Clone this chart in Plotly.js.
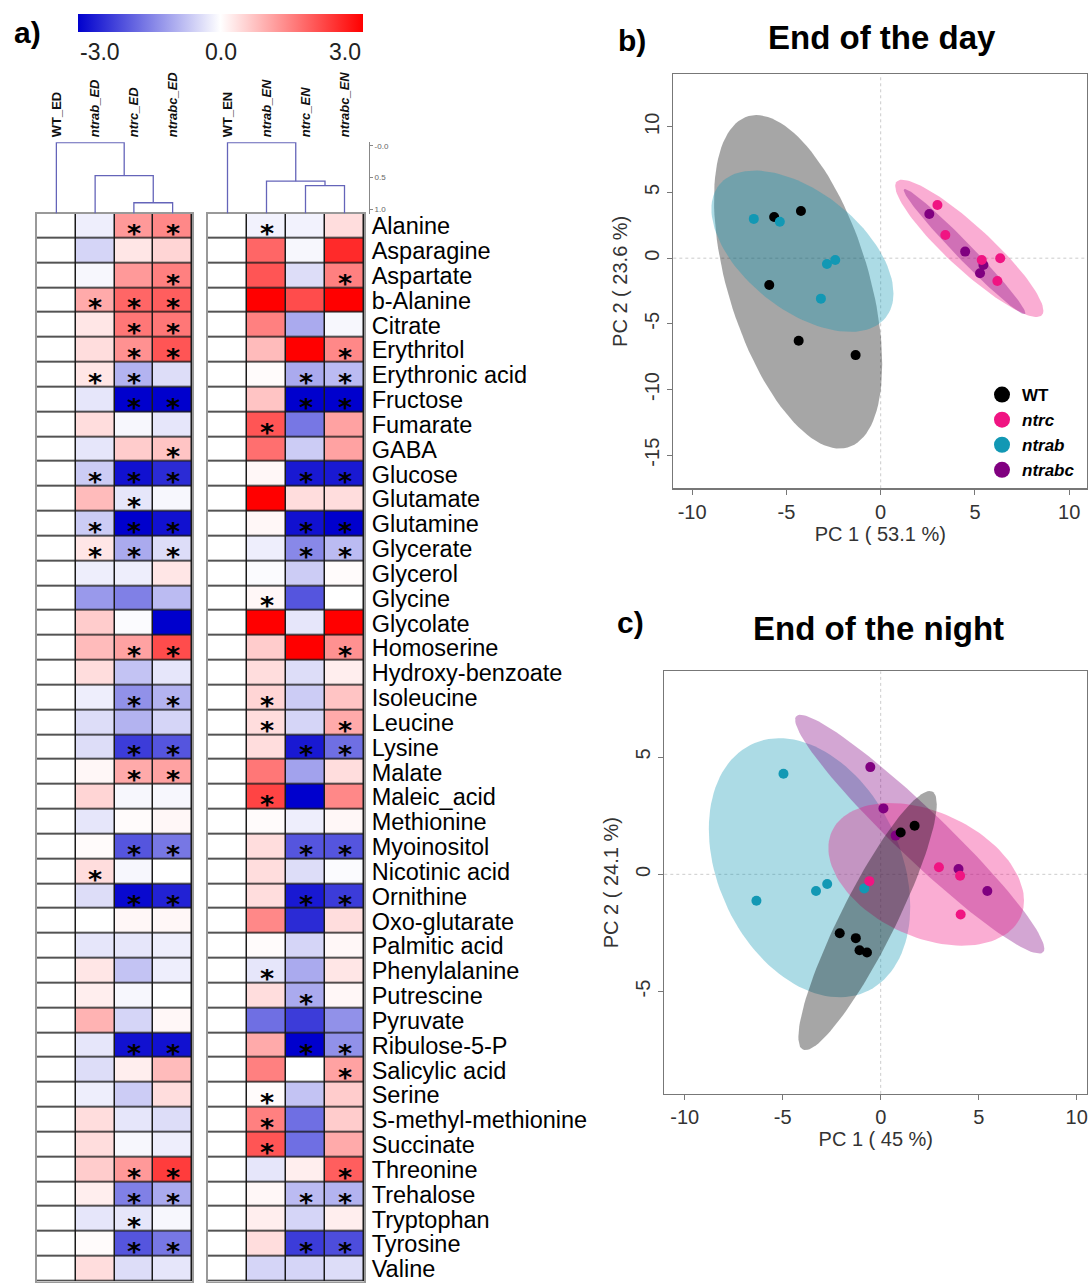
<!DOCTYPE html>
<html><head><meta charset="utf-8">
<script src="https://cdn.plot.ly/plotly-3.0.1.min.js"></script>
<style>html,body{margin:0;padding:0;background:#fff}#chart{width:1088px;height:1283px}</style>
</head><body><div id="chart"></div>
<script>
// ---------------- DATA ----------------
const metabolites = ['Alanine','Asparagine','Aspartate','b-Alanine','Citrate','Erythritol','Erythronic acid','Fructose','Fumarate','GABA','Glucose','Glutamate','Glutamine','Glycerate','Glycerol','Glycine','Glycolate','Homoserine','Hydroxy-benzoate','Isoleucine','Leucine','Lysine','Malate','Maleic_acid','Methionine','Myoinositol','Nicotinic acid','Ornithine','Oxo-glutarate','Palmitic acid','Phenylalanine','Putrescine','Pyruvate','Ribulose-5-P','Salicylic acid','Serine','S-methyl-methionine','Succinate','Threonine','Trehalose','Tryptophan','Tyrosine','Valine'];
const edColLabels = ['WT_ED','<i>ntrab_ED</i>','<i>ntrc_ED</i>','<i>ntrabc_ED</i>'];
const enColLabels = ['WT_EN','<i>ntrab_EN</i>','<i>ntrc_EN</i>','<i>ntrabc_EN</i>'];

// End of day, log-ratio vs WT
const edWT     = metabolites.map(()=>0);
const edNtrab  = [-0.2,-0.5,-0.1,1.0,0.3,0.4,0.3,-0.3,0.4,-0.3,-0.6,0.8,-0.6,0.3,-0.2,-1.2,0.6,0.8,0.4,-0.2,-0.4,-0.4,0.1,0.5,-0.3,0.05,0.4,-0.4,0.0,-0.3,0.3,0.2,0.9,-0.3,-0.4,-0.2,0.4,0.4,0.6,0.2,-0.3,0.05,0.4];
const edNtrc   = [1.2,0.3,1.2,1.8,1.6,1.3,-0.9,-3.0,-0.1,0.6,-2.8,-0.3,-3.0,-1.0,-0.2,-1.5,-0.05,1.1,-0.7,-1.3,-0.9,-2.3,1.0,-0.1,0.05,-2.0,-0.1,-2.9,0.1,-0.3,-0.7,-0.1,-0.5,-2.8,0.2,-0.6,-0.3,-0.1,1.2,-1.5,-0.3,-2.0,-0.4];
const edNtrabc = [1.4,0.5,1.5,1.9,1.6,2.0,-0.4,-3.0,-0.3,0.7,-2.5,-0.1,-2.8,-0.4,0.3,-0.8,-3.0,2.1,-0.3,-0.9,-0.5,-2.0,1.1,-0.1,0.1,-1.6,0.0,-2.6,0.1,-0.2,-0.2,0.0,0.1,-2.8,0.8,0.4,-0.4,-0.2,2.3,-1.0,-0.1,-1.6,-0.3];
const edSigNtrab  = [0,0,0,1,0,0,1,0,0,0,1,0,1,1,0,0,0,0,0,0,0,0,0,0,0,0,1,0,0,0,0,0,0,0,0,0,0,0,0,0,0,0,0];
const edSigNtrc   = [1,0,0,1,1,1,1,1,0,0,1,1,1,1,0,0,0,1,0,1,0,1,1,0,0,1,0,1,0,0,0,0,0,1,0,0,0,0,1,1,1,1,0];
const edSigNtrabc = [1,0,1,1,1,1,0,1,0,1,1,0,1,1,0,0,0,1,0,1,0,1,1,0,0,1,0,1,0,0,0,0,0,1,0,0,0,0,1,1,0,1,0];

// End of night
const enWT     = metabolites.map(()=>0);
const enNtrab  = [-0.15,1.8,2.0,3.0,1.5,0.8,0.05,0.7,2.0,1.7,0.1,3.0,0.1,-0.2,-0.05,0.1,3.0,0.6,0.4,0.5,0.4,0.4,1.6,2.2,0.05,0.4,0.4,0.4,1.4,0.05,-0.3,0.4,-1.7,1.0,1.5,0.05,1.5,2.0,-0.3,0.1,0.2,0.4,-0.5];
const enNtrc   = [-0.15,-0.1,-0.4,2.1,-1.0,3.0,-1.0,-3.0,-1.6,-0.6,-2.7,0.4,-2.8,-1.4,-0.6,-2.0,-0.3,3.0,-0.4,-0.6,-0.5,-2.7,-1.1,-3.0,-0.2,-2.0,-0.4,-2.7,-2.5,-0.5,-1.0,-1.0,-2.3,-3.0,0.0,-0.7,-1.7,-1.7,0.2,-0.8,-0.5,-2.3,-0.5];
const enNtrabc = [0.4,2.5,1.5,3.0,-0.1,1.4,-0.8,-3.0,1.1,1.1,-2.7,0.4,-3.0,-0.8,0.05,0.0,3.0,1.3,0.2,0.7,1.0,-1.7,0.4,1.4,0.1,-2.0,-0.05,-2.3,0.4,0.1,0.3,0.1,-1.3,-1.3,1.1,0.6,0.6,1.0,1.9,-0.9,0.2,-2.1,-0.4];
const enSigNtrab  = [1,0,0,0,0,0,0,0,1,0,0,0,0,0,0,1,0,0,0,1,1,0,0,1,0,0,0,0,0,0,1,0,0,0,0,1,1,1,0,0,0,0,0];
const enSigNtrc   = [0,0,0,0,0,0,1,1,0,0,1,0,1,1,0,0,0,0,0,0,0,1,0,0,0,1,0,1,0,0,0,1,0,1,0,0,0,0,0,1,0,1,0];
const enSigNtrabc = [0,0,1,0,0,1,1,1,0,0,1,0,1,1,0,0,0,1,0,0,1,1,0,0,0,1,0,1,0,0,0,0,0,1,1,0,0,0,1,1,0,1,0];

// Dendrogram merge heights (similarity scale): [ntrc+ntrabc, +ntrab, +WT]
const edMergeHeights = [0.90, 0.47, -0.05];
const enMergeHeights = [0.63, 0.56, -0.05];
const dendroTicks = [0, 0.5, 1.0];
const dendroTickText = ['-0.0','0.5','1.0'];
const colorbarTicks = ['-3.0','0.0','3.0'];

// PCA End of the day
const bWTx = [-5.65,-4.23,-5.91,-4.35,-1.33],   bWTy = [3.13,3.59,-2.04,-6.29,-7.38];
const bNtrcx = [3.01,3.43,5.36,6.34,6.19],      bNtrcy = [4.05,1.77,-0.14,-0.01,-1.74];
const bNtrabx = [-6.73,-5.35,-2.85,-2.41,-3.17],bNtraby = [2.99,2.78,-0.44,-0.14,-3.08];
const bNtrabcx = [2.58,4.48,5.45,5.27],         bNtrabcy = [3.37,0.50,-0.52,-1.15];
// ellipses: [cx, cy, sxx, sxy, syy]
const bEllWT     = [-4.38,-1.80,19.91,-28.0,161.2];
const bEllNtrab  = [-4.15,0.53,23.32,-15.51,37.73];
const bEllNtrc   = [4.70,0.75,15.43,-18.61,27.30];
const bEllNtrabc = [4.45,0.50,10.40,-15.11,22.76];
const bXTicks = [-10,-5,0,5,10], bYTicks = [-15,-10,-5,0,5,10];

// PCA End of the night
const cWTx = [-2.09,-1.27,-1.08,-0.70,1.02,1.73], cWTy = [-2.51,-2.72,-3.24,-3.33,1.78,2.07];
const cNtrcx = [-0.58,2.97,4.05,4.08],            cNtrcy = [-0.29,0.30,-0.06,-1.71];
const cNtrabx = [-4.96,-6.34,-3.30,-2.73,-0.84],  cNtraby = [4.29,-1.13,-0.71,-0.41,-0.60];
const cNtrabcx = [-0.53,0.14,0.76,3.97,5.44],     cNtrabcy = [4.57,2.81,1.65,0.23,-0.71];
const cEllWT     = [-0.67,-1.97,12.46,17.5,30.5];
const cEllNtrab  = [-3.63,0.28,26.4,-8.5,30.5];
const cEllNtrc   = [2.32,0.0,24.9,-5.6,9.24];
const cEllNtrabc = [1.99,1.71,40.4,-31.0,25.9];
const cXTicks = [-10,-5,0,5,10], cYTicks = [-5,0,5];

const groupNames = ['WT','ntrc','ntrab','ntrabc'];
const groupColors = {WT:'rgb(0,0,0)', ntrc:'rgb(240,20,130)', ntrab:'rgb(18,152,180)', ntrabc:'rgb(128,0,128)'};
const groupFills  = {WT:'rgba(0,0,0,0.35)', ntrc:'rgba(240,20,130,0.35)', ntrab:'rgba(18,152,180,0.35)', ntrabc:'rgba(128,0,128,0.35)'};

// ---------------- LAYOUT HELPERS ----------------
const W = 1088, H = 1283;
const fx = v => v / W, fy = v => 1 - v / H;
const FONT = 'Liberation Sans, Arial, sans-serif';
const STARFONT = 'DejaVu Sans, sans-serif';
const colorscale = [[0,'rgb(0,0,205)'],[0.5,'rgb(255,255,255)'],[1,'rgb(255,0,0)']];
const colIdx = [0,1,2,3];

function heat(cols, xa, ya, withBar) {
  const z = metabolites.map((m, i) => cols.map(c => c[i]));
  const t = {type:'heatmap', x: colIdx, y: metabolites, z, zmin:-3, zmax:3, colorscale,
    xgap:1.5, ygap:1.5, xaxis:xa, yaxis:ya, hoverinfo:'skip', showscale: withBar};
  if (withBar) t.colorbar = {orientation:'h', x: fx(220.5), xanchor:'center', y: fy(14), yanchor:'top',
    len: 285, lenmode:'pixels', thickness: 18, thicknessmode:'pixels', showticklabels:false, ticks:'',
    outlinewidth:0, xpad:0, ypad:0};
  return t;
}
function starAnns(sigCols, xa, ya) {
  const out = [];
  sigCols.forEach((s, k) => s.forEach((v, i) => {
    if (v) out.push({text:'<b>*</b>', xref:xa, yref:ya, x:k + 1, y:metabolites[i], showarrow:false, yshift:-7,
      xanchor:'center', yanchor:'middle', borderpad:0, width:16, height:18, valign:'middle',
      font:{size:27, color:'#000', family:STARFONT}});
  }));
  return out;
}
const dendroRange = [1.07, -0.055];
function dendro(h, xa, ya) {
  const leaf = dendroRange[0];
  const m23 = (2 + 3) / 2, m123 = (1 + m23) / 2;
  const x = [], y = [];
  const seg = (xs, ys) => { x.push(...xs, null); y.push(...ys, null); };
  seg([2,2,3,3], [leaf,h[0],h[0],leaf]);
  seg([1,1,m23,m23], [leaf,h[1],h[1],h[0]]);
  seg([0,0,m123,m123], [leaf,h[2],h[2],h[1]]);
  return {type:'scatter', mode:'lines', x, y, line:{color:'rgb(100,100,185)', width:1.3},
    xaxis:xa, yaxis:ya, hoverinfo:'skip', showlegend:false, cliponaxis:false};
}
function ellipse(p, name, xa, ya) {
  const [cx, cy, sxx, sxy, syy] = p;
  const l11 = Math.sqrt(sxx), l21 = sxy / l11, l22 = Math.sqrt(syy - l21 * l21);
  const x = [], y = [];
  for (let k = 0; k <= 120; k++) {
    const t = 2 * Math.PI * k / 120, c = Math.cos(t), s = Math.sin(t);
    x.push(cx + l11 * c); y.push(cy + l21 * c + l22 * s);
  }
  return {type:'scatter', mode:'lines', x, y, fill:'toself', fillcolor: groupFills[name],
    line:{width:0, color:'rgba(0,0,0,0)'}, xaxis:xa, yaxis:ya, hoverinfo:'skip', showlegend:false};
}
function pts(xs, ys, name, xa, ya) {
  return {type:'scatter', mode:'markers', x: xs, y: ys, marker:{size:10, color: groupColors[name]},
    xaxis:xa, yaxis:ya, hoverinfo:'skip', showlegend:false};
}

const traces = [];
traces.push(heat([edWT, edNtrab, edNtrc, edNtrabc], 'x', 'y', true));
traces.push(heat([enWT, enNtrab, enNtrc, enNtrabc], 'x2', 'y2', false));
traces.push(dendro(edMergeHeights, 'x3', 'y3'));
traces.push(dendro(enMergeHeights, 'x4', 'y4'));

// PCA b
traces.push(ellipse(bEllWT, 'WT', 'x5', 'y5'));
traces.push(ellipse(bEllNtrab, 'ntrab', 'x5', 'y5'));
traces.push(ellipse(bEllNtrc, 'ntrc', 'x5', 'y5'));
traces.push(ellipse(bEllNtrabc, 'ntrabc', 'x5', 'y5'));
traces.push(pts(bNtrabcx, bNtrabcy, 'ntrabc', 'x5', 'y5'));
traces.push(pts(bWTx, bWTy, 'WT', 'x5', 'y5'));
traces.push(pts(bNtrabx, bNtraby, 'ntrab', 'x5', 'y5'));
traces.push(pts(bNtrcx, bNtrcy, 'ntrc', 'x5', 'y5'));
// PCA c
traces.push(ellipse(cEllNtrab, 'ntrab', 'x6', 'y6'));
traces.push(ellipse(cEllNtrabc, 'ntrabc', 'x6', 'y6'));
traces.push(ellipse(cEllNtrc, 'ntrc', 'x6', 'y6'));
traces.push(ellipse(cEllWT, 'WT', 'x6', 'y6'));
traces.push(pts(cNtrabcx, cNtrabcy, 'ntrabc', 'x6', 'y6'));
traces.push(pts(cNtrabx, cNtraby, 'ntrab', 'x6', 'y6'));
traces.push(pts(cNtrcx, cNtrcy, 'ntrc', 'x6', 'y6'));
traces.push(pts(cWTx, cWTy, 'WT', 'x6', 'y6'));
// legend entries
groupNames.forEach(g => traces.push({type:'scatter', mode:'markers', x:[null], y:[null], xaxis:'x5', yaxis:'y5',
  name: g === 'WT' ? '<b>WT</b>' : '<b><i>' + g + '</i></b>', marker:{size:16, color: groupColors[g]}, showlegend:true, hoverinfo:'skip'}));

const hmY = [fy(1281.5), fy(213.5)];
const dnY = [fy(213.5), fy(142.3)];
const edX = [fx(37), fx(192)], enX = [fx(208), fx(364)];
const hx = (dom, anchor) => ({domain: dom, anchor, range:[-0.5, 3.5], showticklabels:false, ticks:'', showgrid:false,
  zeroline:false, showline:true, mirror:true, linecolor:'#999', linewidth:2, fixedrange:true});
const hy = (anchor, extra) => Object.assign({domain: hmY, anchor, type:'category', categoryorder:'array', categoryarray: metabolites,
  range:[metabolites.length - 0.5, -0.5], showgrid:false, zeroline:false, showline:true, mirror:true, linecolor:'#999', linewidth:2,
  ticks:'', showticklabels:false}, extra || {});
const dx = (dom, anchor, labels) => ({domain: dom, anchor, range:[-0.5, 3.5], side:'top', tickmode:'array', tickvals: colIdx,
  ticktext: labels, tickangle:-90, ticks:'', showline:false, showgrid:false, zeroline:false, ticklabelstandoff:4,
  tickfont:{size:13, color:'#111', family:FONT, weight:'bold'}});
const pcaAxisBase = {showgrid:false, zeroline:false, showline:true, mirror:true, linecolor:'#777', linewidth:1.5,
  ticks:'outside', ticklen:5, tickcolor:'#777', tickfont:{size:20, color:'#333', family:FONT}, tickmode:'array'};
const axTitle = (t, s) => ({text:t, font:{size:20, color:'#333', family:FONT}, standoff:s});

const layout = {
  width: W, height: H, margin:{l:0, r:0, t:0, b:0}, paper_bgcolor:'#fff', plot_bgcolor:'rgba(0,0,0,0)',
  font:{family:FONT, color:'#000'},
  xaxis: hx(edX, 'y'), yaxis: hy('x'),
  xaxis2: hx(enX, 'y2'),
  yaxis2: hy('x2', {side:'right', showticklabels:true, tickmode:'array', tickvals: metabolites, ticktext: metabolites,
    tickfont:{size:23.5, color:'#000', family:FONT}, ticklabelstandoff: 1}),
  xaxis3: dx(edX, 'y3', edColLabels),
  yaxis3: {domain: dnY, anchor:'x3', range: dendroRange, visible:false},
  xaxis4: dx(enX, 'y4', enColLabels),
  yaxis4: {domain: dnY, anchor:'free', position: fx(369), side:'right', range: dendroRange, showline:true, linecolor:'#888',
    linewidth:1, ticks:'outside', ticklen:3, tickcolor:'#888', tickmode:'array', tickvals: dendroTicks, ticktext: dendroTickText,
    showgrid:false, zeroline:false, tickfont:{size:8, color:'#666', family:FONT}},
  xaxis5: Object.assign({}, pcaAxisBase, {domain:[fx(673.3), fx(1087.3)], anchor:'y5', range:[-11.0, 10.96],
    tickvals: bXTicks, ticktext: bXTicks.map(String), title: axTitle('PC 1 ( 53.1 %)', 2)}),
  yaxis5: Object.assign({}, pcaAxisBase, {domain:[fy(488.3), fy(74.3)], anchor:'x5', range:[-17.52, 14.0],
    tickvals: bYTicks, ticktext: bYTicks.map(String), tickangle:-90, title: axTitle('PC 2 ( 23.6 %)', 8)}),
  xaxis6: Object.assign({}, pcaAxisBase, {domain:[fx(664.3), fx(1087.3)], anchor:'y6', range:[-11.04, 10.54],
    tickvals: cXTicks, ticktext: cXTicks.map(String), title: axTitle('PC 1 ( 45 %)', 2)}),
  yaxis6: Object.assign({}, pcaAxisBase, {domain:[fy(1093.9), fy(671.4)], anchor:'x6', range:[-9.36, 8.65],
    tickvals: cYTicks, ticktext: cYTicks.map(String), tickangle:-90, title: axTitle('PC 2 ( 24.1 %)', 8)}),
  showlegend: true,
  legend:{x: fx(982), y: fy(377), xanchor:'left', yanchor:'top', bgcolor:'rgba(0,0,0,0)', font:{size:17, color:'#000', family:FONT},
    itemwidth:30, tracegroupgap:0},
  shapes: [
    {type:'rect', xref:'x', yref:'y', x0:-0.5, x1: colIdx.length - 0.5, y0:-0.5, y1: metabolites.length - 0.5, fillcolor:'#1a1a1a', line:{width:0}, layer:'below'},
    {type:'rect', xref:'x2', yref:'y2', x0:-0.5, x1: colIdx.length - 0.5, y0:-0.5, y1: metabolites.length - 0.5, fillcolor:'#1a1a1a', line:{width:0}, layer:'below'},
    {type:'line', xref:'x5', yref:'y5 domain', x0:0, x1:0, y0:0, y1:1, line:{color:'#ccc', width:1, dash:'dot'}, layer:'below'},
    {type:'line', xref:'x5 domain', yref:'y5', x0:0, x1:1, y0:0, y1:0, line:{color:'#ccc', width:1, dash:'dot'}, layer:'below'},
    {type:'line', xref:'x6', yref:'y6 domain', x0:0, x1:0, y0:0, y1:1, line:{color:'#ccc', width:1, dash:'dot'}, layer:'below'},
    {type:'line', xref:'x6 domain', yref:'y6', x0:0, x1:1, y0:0, y1:0, line:{color:'#ccc', width:1, dash:'dot'}, layer:'below'}
  ],
  annotations: [
    {text:'<b>a)</b>', xref:'paper', yref:'paper', x: fx(27), y: fy(32), xanchor:'center', yanchor:'middle', showarrow:false, font:{size:30, color:'#000', family:FONT}},
    {text:'<b>b)</b>', xref:'paper', yref:'paper', x: fx(632), y: fy(40), xanchor:'center', yanchor:'middle', showarrow:false, font:{size:30, color:'#000', family:FONT}},
    {text:'<b>c)</b>', xref:'paper', yref:'paper', x: fx(630), y: fy(622), xanchor:'center', yanchor:'middle', showarrow:false, font:{size:30, color:'#000', family:FONT}},
    {text:'<b>End of the day</b>', xref:'paper', yref:'paper', x: fx(882), y: fy(38), xanchor:'center', yanchor:'middle', showarrow:false, font:{size:33, color:'#000', family:FONT}},
    {text:'<b>End of the night</b>', xref:'paper', yref:'paper', x: fx(878), y: fy(628), xanchor:'center', yanchor:'middle', showarrow:false, font:{size:33, color:'#000', family:FONT}},
    {text: colorbarTicks[0], xref:'paper', yref:'paper', x: fx(78), y: fy(52), xanchor:'left', yanchor:'middle', showarrow:false, font:{size:23, color:'#222', family:FONT}},
    {text: colorbarTicks[1], xref:'paper', yref:'paper', x: fx(220.5), y: fy(52), xanchor:'center', yanchor:'middle', showarrow:false, font:{size:23, color:'#222', family:FONT}},
    {text: colorbarTicks[2], xref:'paper', yref:'paper', x: fx(363), y: fy(52), xanchor:'right', yanchor:'middle', showarrow:false, font:{size:23, color:'#222', family:FONT}}
  ].concat(starAnns([edSigNtrab, edSigNtrc, edSigNtrabc], 'x', 'y'))
   .concat(starAnns([enSigNtrab, enSigNtrc, enSigNtrabc], 'x2', 'y2'))
};
Plotly.newPlot('chart', traces, layout, {displayModeBar:false, staticPlot:true});
</script></body></html>
